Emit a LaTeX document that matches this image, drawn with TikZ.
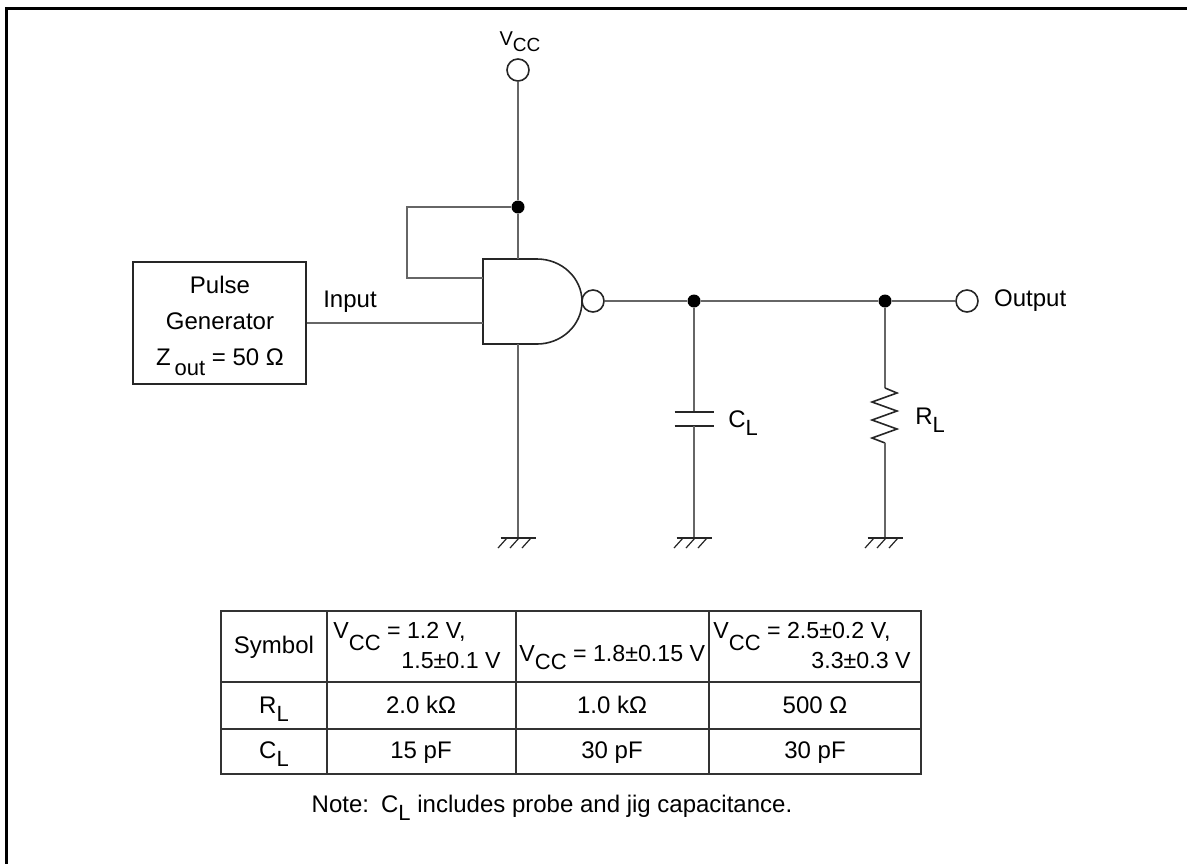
\documentclass[tikz,border=0pt]{standalone}
\usepackage{fontspec}
\setmainfont{Liberation Sans}
\usetikzlibrary{positioning}
% lowered subscript, nearly full size
\newcommand{\lsub}[2][4pt]{\raisebox{-#1}{\fontsize{11}{11}\selectfont #2}}

\begin{document}
\begin{tikzpicture}[
	x=0.5pt, y=-0.5pt,
	every node/.style={font=\fontsize{12}{14}\selectfont, inner sep=0pt},
	wire/.style={draw=black!60, line width=0.8pt},
	part/.style={draw=black!85, line width=0.8pt},
	grid/.style={draw=black!80, line width=0.6pt},
	term/.style={circle, draw=black!85, line width=0.8pt, fill=white, minimum size=11pt},
	junc/.style={circle, fill=black, minimum size=6.5pt},
	hdr/.style={font=\fontsize{11.6}{14}\selectfont},
	gnd/.pic={
		\draw[part] (-17.5,0) -- (17.5,0);
		\foreach \dx in {-11,1,13}
			\draw[part, line width=0.6pt] (\dx,0) -- ++(-9,10);
	}]
\useasboundingbox (0,0) rectangle (1187,863);
\draw[line width=1.5pt] (6,900) -- (6,8) -- (1220,8);

% supply and gate
\node[font=\fontsize{10}{12}\selectfont] (vcc) at (520,42) {V\raisebox{-3pt}{\fontsize{9.5}{10}\selectfont CC}};
\node[term] (vccT) at (518,70) {};
\node[junc] (top) at (518,207) {};
\coordinate (gtop) at (518,259);
\coordinate (gbot) at (518,344);
\coordinate (loop) at (407,278);
\coordinate (in1) at (483,278);
\coordinate (in2) at (483,323);
\coordinate (g1) at (518,538);
\draw[part] (483,259) -- (537,259)
	arc[start angle=90, end angle=-90, x radius=22.5pt, y radius=21.25pt]
	-- (483,344) -- cycle;
\node[term] (bub) at (593,301) {};
\draw[wire] (vccT) -- (top) -- (gtop);
\draw[wire] (top) -| (loop) -- (in1);
\draw[wire] (gbot) -- (g1);
\pic at (g1) {gnd};

% pulse generator
\node[part, minimum width=86.5pt, minimum height=61pt, align=center,
	font=\fontsize{12}{18}\selectfont] (pgen) at (219.5,323) {};
\node[align=center, font=\fontsize{12}{18}\selectfont] (pgtxt) at (220,326)
	{Pulse\\Generator\\Z\,\lsub[5pt]{out} = 50 Ω};
\draw[wire] (pgen.east) -- (in2);
\node (inlbl) at (350,302) {Input};

% output and load
\node[junc] (jc) at (694,301) {};
\node[junc] (jr) at (885,301) {};
\node[term] (out) at (967,301) {};
\node[right=7.5pt of out] (outlbl) {Output};
\draw[wire] (bub) -- (jc) -- (jr) -- (out);

\coordinate (c1) at (694,412);
\coordinate (c2) at (694,426);
\coordinate (gc) at (694,538);
\draw[wire] (jc) -- (c1);
\draw[part] ([xshift=-9.75pt]c1) -- ([xshift=9.75pt]c1);
\draw[part] ([xshift=-9.75pt]c2) -- ([xshift=9.75pt]c2);
\draw[wire] (c2) -- (gc);
\pic at (gc) {gnd};
\node[anchor=base west] (cl) at (728,427) {C\lsub{L}};

\coordinate (r1) at (885,388);
\coordinate (r2) at (885,443);
\coordinate (gr) at (885,538);
\draw[wire] (jr) -- (r1);
\draw[part] (r1) -- ++(12,5) -- ++(-25,9) -- ++(25,9) -- ++(-25,9)
	-- ++(25,9) -- ++(-25,9) -- (r2);
\draw[wire] (r2) -- (gr);
\pic at (gr) {gnd};
\node[anchor=base west] (rl) at (915,424) {R\lsub{L}};

% table
\draw[grid] (221,611) rectangle (921,774);
\foreach \x in {327,516,709}
	\draw[grid] (\x,611) -- (\x,774);
\foreach \y in {682,729}
	\draw[grid] (221,\y) -- (921,\y);
\node (hs) at (274,647) {Symbol};
\node[hdr, anchor=base west] (h1a) at (333,638) {V\lsub[6pt]{CC} = 1.2 V,};
\node[hdr, anchor=base east] (h1b) at (501,668) {1.5±0.1 V};
\node[hdr, anchor=base west] (h2) at (519,661) {V\lsub{CC} = 1.8±0.15 V};
\node[hdr, anchor=base west] (h3a) at (713,638) {V\lsub[6pt]{CC} = 2.5±0.2 V,};
\node[hdr, anchor=base east] (h3b) at (911,668) {3.3±0.3 V};
\node[anchor=base] (rs) at (274,713) {R\lsub{L}};
\node[anchor=base] (r1v) at (421,713) {2.0 kΩ};
\node[anchor=base] (r2v) at (612,713) {1.0 kΩ};
\node[anchor=base] (r3v) at (815,713) {500 Ω};
\node[anchor=base] (cs) at (274,758) {C\lsub{L}};
\node[anchor=base] (c1v) at (421,758) {15 pF};
\node[anchor=base] (c2v) at (612,758) {30 pF};
\node[anchor=base] (c3v) at (815,758) {30 pF};

\node[anchor=base] (note) at (552,812) {Note:\enspace C\lsub{L} includes probe and jig capacitance.};
\end{tikzpicture}
\end{document}
